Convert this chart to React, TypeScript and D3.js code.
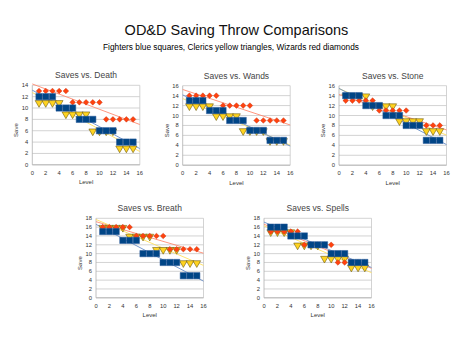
import React from "react";
import * as d3 from "d3";

const levels = [1, 2, 3, 4, 5, 6, 7, 8, 9, 10, 11, 12, 13, 14, 15];

const deathFighter = [12, 12, 12, 10, 10, 10, 8, 8, 8, 6, 6, 6, 4, 4, 4];
const deathCleric = [11, 11, 11, 11, 9, 9, 9, 9, 6, 6, 6, 6, 3, 3, 3];
const deathWizard = [13, 13, 13, 13, 13, 11, 11, 11, 11, 11, 8, 8, 8, 8, 8];

const wandsFighter = [13, 13, 13, 11, 11, 11, 9, 9, 9, 7, 7, 7, 5, 5, 5];
const wandsCleric = [12, 12, 12, 12, 10, 10, 10, 10, 7, 7, 7, 7, 5, 5, 5];
const wandsWizard = [14, 14, 14, 14, 14, 12, 12, 12, 12, 12, 9, 9, 9, 9, 9];

const stoneFighter = [14, 14, 14, 12, 12, 12, 10, 10, 10, 8, 8, 8, 5, 5, 5];
const stoneCleric = [14, 14, 14, 14, 12, 12, 12, 12, 9, 9, 9, 9, 7, 7, 7];
const stoneWizard = [13, 13, 13, 13, 13, 11, 11, 11, 11, 11, 8, 8, 8, 8, 8];

const breathFighter = [15, 15, 15, 13, 13, 13, 10, 10, 10, 8, 8, 8, 5, 5, 5];
const breathCleric = [16, 16, 16, 16, 14, 14, 14, 14, 11, 11, 11, 11, 8, 8, 8];
const breathWizard = [16, 16, 16, 16, 16, 14, 14, 14, 14, 14, 11, 11, 11, 11, 11];

const spellsFighter = [16, 16, 16, 14, 14, 14, 12, 12, 12, 10, 10, 10, 8, 8, 8];
const spellsCleric = [15, 15, 15, 15, 12, 12, 12, 12, 9, 9, 9, 9, 7, 7, 7];
const spellsWizard = [15, 15, 15, 15, 15, 12, 12, 12, 12, 12, 8, 8, 8, 8, 8];

const xTicks = [0, 2, 4, 6, 8, 10, 12, 14, 16];

const BLUE = "#004586";
const RED = "#ff420e";
const YELLOW = "#ffd320";
const FONT = "'Liberation Sans', Arial, sans-serif";

function regress(xs: number[], ys: number[]) {
  const mx = d3.mean(xs)!;
  const my = d3.mean(ys)!;
  let num = 0,
    den = 0;
  xs.forEach((x, i) => {
    num += (x - mx) * (ys[i] - my);
    den += (x - mx) * (x - mx);
  });
  const b = num / den;
  return (x: number) => my + b * (x - mx);
}

type PanelProps = {
  title: string;
  left: number;
  top: number;
  yMax: number;
  fighter: number[];
  cleric: number[];
  wizard: number[];
};

function Panel({ title, left, top, yMax, fighter, cleric, wizard }: PanelProps) {
  const w = 107.5;
  const h = 79.5;
  const x = d3.scaleLinear().domain([0, 16]).range([0, w]);
  const y = d3.scaleLinear().domain([0, yMax]).range([h, 0]);
  const yTicks = d3.range(0, yMax + 1, 2);
  const line = (f: (v: number) => number) =>
    d3.line<number>().x((v) => x(v)).y((v) => y(f(v)))([0, 16]) || "";
  const sq = d3.symbol().type(d3.symbolSquare).size(40)()!;
  const tri = d3.symbol().type(d3.symbolTriangle).size(26)()!;
  const dia = d3.symbol().type(d3.symbolSquare).size(16)()!;
  return (
    <g transform={`translate(${left},${top})`}>
      <text x={w / 2} y={-7} textAnchor="middle" fontSize={8.5} fill="#444" fontFamily={FONT}>
        {title}
      </text>
      {yTicks.map((t) => (
        <g key={t}>
          <line x1={0} x2={w} y1={y(t)} y2={y(t)} stroke="#c8c8c8" strokeWidth={0.8} />
          <text x={-4} y={y(t) + 2} textAnchor="end" fontSize={5.8} fill="#333" fontFamily={FONT}>
            {t}
          </text>
        </g>
      ))}
      <line x1={0} x2={0} y1={0} y2={h} stroke="#b0b0b0" strokeWidth={0.8} />
      <line x1={w} x2={w} y1={0} y2={h} stroke="#c8c8c8" strokeWidth={0.8} />
      <line x1={0} x2={w} y1={h} y2={h} stroke="#b0b0b0" strokeWidth={0.8} />
      {xTicks.map((t) => (
        <text key={t} x={x(t)} y={h + 10} textAnchor="middle" fontSize={5.8} fill="#333" fontFamily={FONT}>
          {t}
        </text>
      ))}
      <text x={w / 2} y={h + 19.5} textAnchor="middle" fontSize={6} fill="#333" fontFamily={FONT}>
        Level
      </text>
      <text
        transform={`translate(${-14},${h / 2 + 5}) rotate(-90)`}
        textAnchor="middle"
        fontSize={6}
        fill="#333"
        fontFamily={FONT}
      >
        Save
      </text>
      <path d={line(regress(levels, wizard))} stroke="#ff8a70" strokeWidth={0.9} fill="none" />
      <path d={line(regress(levels, cleric))} stroke="#ffe060" strokeWidth={0.9} fill="none" />
      <path d={line(regress(levels, fighter))} stroke="#6a8ec8" strokeWidth={0.9} fill="none" />
      {cleric.map((v, i) => (
        <path
          key={"c" + i}
          d={tri}
          transform={`translate(${x(levels[i])},${y(v) + 0.5}) rotate(180)`}
          fill={YELLOW}
          stroke="#6b5a10"
          strokeWidth={0.6}
        />
      ))}
      {wizard.map((v, i) => (
        <path
          key={"w" + i}
          d={dia}
          transform={`translate(${x(levels[i])},${y(v)}) rotate(45)`}
          fill={RED}
          stroke="#c03010"
          strokeWidth={0.4}
        />
      ))}
      {fighter.map((v, i) => (
        <path
          key={"f" + i}
          d={sq}
          transform={`translate(${x(levels[i])},${y(v)})`}
          fill={BLUE}
          stroke="#2a5a9a"
          strokeWidth={0.5}
        />
      ))}
    </g>
  );
}

export default function App() {
  return (
    <svg
      width={474}
      height={355}
      style={{ position: "absolute", left: 0, top: 0, background: "#fff" }}
    >
      <rect width={474} height={355} fill="#fff" />
      <text x={236.5} y={35} textAnchor="middle" fontSize={14.5} fill="#111" fontFamily={FONT}>
        OD&amp;D Saving Throw Comparisons
      </text>
      <text x={231} y={50} textAnchor="middle" fontSize={8.3} fill="#000" fontFamily={FONT}>
        Fighters blue squares, Clerics yellow triangles, Wizards red diamonds
      </text>
      <Panel title="Saves vs. Death" left={32.3} top={85.3} yMax={14} fighter={deathFighter} cleric={deathCleric} wizard={deathWizard} />
      <Panel title="Saves vs. Wands" left={182.7} top={85.7} yMax={16} fighter={wandsFighter} cleric={wandsCleric} wizard={wandsWizard} />
      <Panel title="Saves vs. Stone" left={339} top={85.7} yMax={16} fighter={stoneFighter} cleric={stoneCleric} wizard={stoneWizard} />
      <Panel title="Saves vs. Breath" left={96} top={218.3} yMax={18} fighter={breathFighter} cleric={breathCleric} wizard={breathWizard} />
      <Panel title="Saves vs. Spells" left={264} top={218.3} yMax={18} fighter={spellsFighter} cleric={spellsCleric} wizard={spellsWizard} />
    </svg>
  );
}
